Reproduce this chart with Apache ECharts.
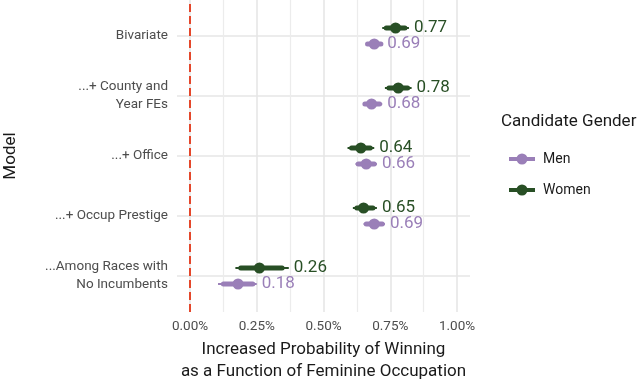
<!DOCTYPE html>
<html>
<head>
<meta charset="utf-8">
<script src="https://cdn.jsdelivr.net/npm/echarts@6/dist/echarts.min.js"></script>
<style>
  html, body { margin: 0; padding: 0; background: #fff; }
  #chart { width: 639px; height: 382px; }
</style>
</head>
<body>
<div id="chart"></div>
<script>
// models, top to bottom
const models = ['Bivariate', '...+ County and\nYear FEs', '...+ Office', '...+ Occup Prestige', '...Among Races with\nNo Incumbents'];
const xTicks = [0, 0.25, 0.5, 0.75, 1];

// estimates in percentage points, thin = outer interval, thick = inner interval
const menEst = [0.69, 0.68, 0.66, 0.69, 0.18];
const menLo = [0.66, 0.65, 0.62, 0.65, 0.105];
const menHi = [0.72, 0.72, 0.70, 0.73, 0.25];
const menLoIn = [0.665, 0.655, 0.63, 0.66, 0.125];
const menHiIn = [0.715, 0.71, 0.69, 0.72, 0.235];

const womenEst = [0.77, 0.78, 0.64, 0.65, 0.26];
const womenLo = [0.72, 0.73, 0.59, 0.61, 0.17];
const womenHi = [0.82, 0.83, 0.69, 0.70, 0.37];
const womenLoIn = [0.735, 0.745, 0.605, 0.625, 0.19];
const womenHiIn = [0.805, 0.815, 0.675, 0.685, 0.345];

const menColor = '#9a7fb8';
const womenColor = '#284f25';

let chartDom = document.getElementById('chart');
let myChart = echarts.init(chartDom);

function buildData(est, lo, hi, loIn, hiIn) {
    return est.map((v, i) => [v, lo[i], hi[i], loIn[i], hiIn[i], i]);
}

function makeRender(color, offset) {
    return function (params, api) {
        let y = api.coord([0, api.value(5)])[1] + offset;
        let xe = api.coord([api.value(0), 0])[0];
        let xl = api.coord([api.value(1), 0])[0];
        let xh = api.coord([api.value(2), 0])[0];
        let xli = api.coord([api.value(3), 0])[0];
        let xhi = api.coord([api.value(4), 0])[0];
        return {
            type: 'group',
            children: [
                {type: 'line', shape: {x1: xl, y1: y, x2: xh, y2: y}, style: {stroke: color, lineWidth: 2}},
                {type: 'line', shape: {x1: xli, y1: y, x2: xhi, y2: y}, style: {stroke: color, lineWidth: 5, lineCap: 'round'}},
                {type: 'circle', shape: {cx: xe, cy: y, r: 5.5}, style: {fill: color}},
                {type: 'text', style: {
                    x: xh + 5, y: y, text: api.value(0).toFixed(2),
                    fill: color, fontSize: 17, fontFamily: 'Roboto',
                    align: 'left', verticalAlign: 'middle'
                }}
            ]
        };
    };
}

let option = {
    animation: false,
    title: {
        text: 'Candidate Gender',
        left: 496, top: 108,
        textStyle: {fontSize: 17, fontWeight: 'normal', color: '#1a1a1a', fontFamily: 'Roboto'}
    },
    legend: {
        orient: 'vertical',
        left: 504, top: 147,
        itemWidth: 26, itemHeight: 11, itemGap: 17,
        data: [
            {name: 'Men', icon: 'path://M0,3.5H26V7.5H0Z M7.5,5.5A5.5,5.5 0 1 1 18.5,5.5A5.5,5.5 0 1 1 7.5,5.5Z'},
            {name: 'Women', icon: 'path://M0,3.5H26V7.5H0Z M7.5,5.5A5.5,5.5 0 1 1 18.5,5.5A5.5,5.5 0 1 1 7.5,5.5Z'}
        ],
        textStyle: {fontSize: 14, color: '#1a1a1a', fontFamily: 'Roboto', padding: [0, 0, 0, 3]}
    },
    grid: [
        {left: 190, width: 267, top: 0, height: 312, outerBoundsMode: 'none'},
        {left: 177, width: 293, top: 36, height: 240, outerBoundsMode: 'none'}
    ],
    xAxis: [
        {
            type: 'value', gridIndex: 0, min: xTicks[0], max: xTicks[xTicks.length - 1], interval: 0.25,
            axisLine: {show: false}, axisTick: {show: false},
            axisLabel: {formatter: v => v.toFixed(2) + '%', fontSize: 13.5, color: '#4d4d4d', fontFamily: 'Roboto', margin: 8},
            splitLine: {show: true, lineStyle: {color: '#e6e6e6', width: 1.6}},
            minorTick: {show: false, splitNumber: 2},
            minorSplitLine: {show: true, lineStyle: {color: '#ececec', width: 1.2}},
            name: 'Increased Probability of Winning\nas a Function of Feminine Occupation',
            nameLocation: 'middle', nameGap: 27,
            nameTextStyle: {fontSize: 17, lineHeight: 22, color: '#1a1a1a', fontFamily: 'Roboto'}
        },
        {
            type: 'value', gridIndex: 1, min: -0.0487, max: 1.0487, show: false,
            splitLine: {show: false}
        }
    ],
    yAxis: [
        {type: 'value', gridIndex: 0, min: 0, max: 1, show: false, splitLine: {show: false}},
        {
            type: 'category', gridIndex: 1, data: models, inverse: true, boundaryGap: false,
            axisLine: {show: false}, axisTick: {show: false},
            axisLabel: {fontSize: 13.5, color: '#4d4d4d', fontFamily: 'Roboto', margin: 9, lineHeight: 18, align: 'right'},
            splitLine: {show: true, lineStyle: {color: '#e6e6e6', width: 1.6}},
            name: 'Model', nameLocation: 'middle', nameRotate: 90, nameGap: 158,
            nameTextStyle: {fontSize: 17, color: '#1a1a1a', fontFamily: 'Roboto'}
        }
    ],
    series: [
        {
            type: 'line', xAxisIndex: 0, yAxisIndex: 0, silent: true,
            data: [[0, 0], [0, 1]], symbol: 'none',
            lineStyle: {color: '#e4472b', width: 2, type: [8, 4]}
        },
        {
            name: 'Men', type: 'custom', xAxisIndex: 1, yAxisIndex: 1,
            itemStyle: {color: menColor},
            renderItem: makeRender(menColor, 8),
            encode: {x: [0, 1, 2], y: 5},
            data: buildData(menEst, menLo, menHi, menLoIn, menHiIn)
        },
        {
            name: 'Women', type: 'custom', xAxisIndex: 1, yAxisIndex: 1,
            itemStyle: {color: womenColor},
            renderItem: makeRender(womenColor, -8),
            encode: {x: [0, 1, 2], y: 5},
            data: buildData(womenEst, womenLo, womenHi, womenLoIn, womenHiIn)
        }
    ]
};

option && myChart.setOption(option);
</script>
</body>
</html>
